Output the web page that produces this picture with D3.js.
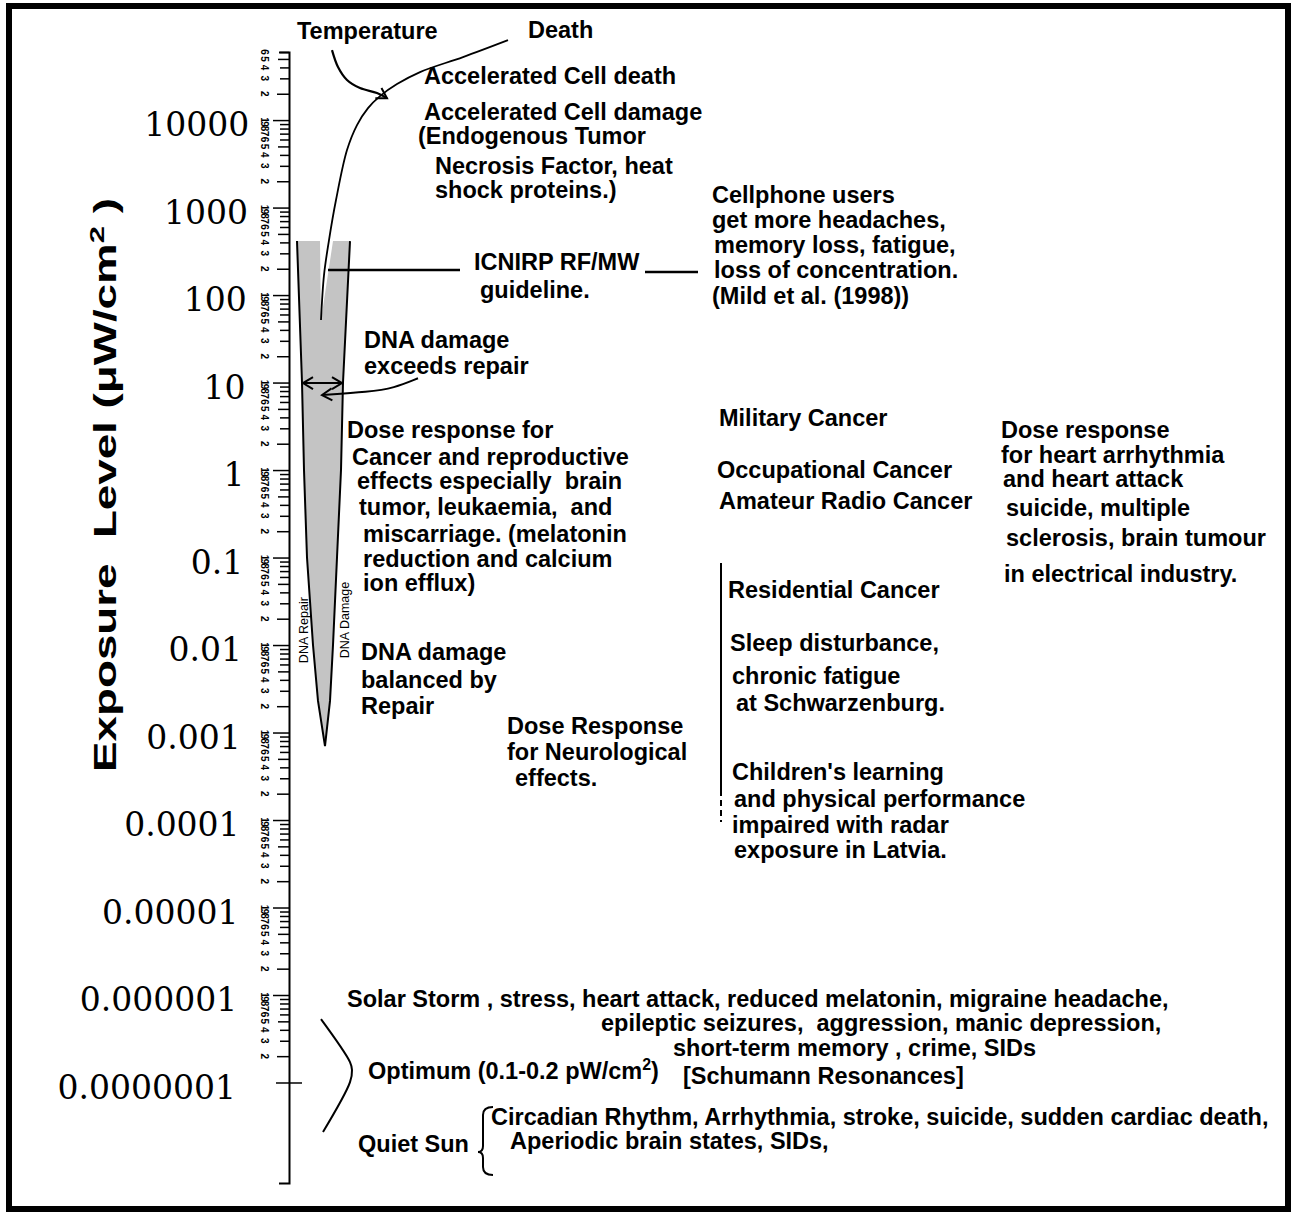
<!DOCTYPE html>
<html>
<head>
<meta charset="utf-8">
<script src="https://cdn.jsdelivr.net/npm/d3@7"></script>
<style>
  body { margin: 0; background: #fff; }
  svg text { font-family: "Liberation Sans", Arial, sans-serif; white-space: pre; }
</style>
</head>
<body>
<svg id="chart" width="1294" height="1214"></svg>
<script>
// exposure level axis (µW/cm2)
const decadeValues = [1e4, 1e3, 100, 10, 1, 0.1, 0.01, 0.001, 1e-4, 1e-5, 1e-6, 1e-7];
const decadeLabels = ["10000", "1000", "100", "10", "1", "0.1", "0.01", "0.001",
                      "0.0001", "0.00001", "0.000001", "0.0000001"];
const minorDigits = [2, 3, 4, 5, 6, 7, 8, 9];

// gray wedge: repair vs damage (x in arbitrary response units)
const wedgeLevels = [414, 10, 1, 0.1, 0.01, 0.0023, 0.0007];
const repairEdge  = [0.8, 1.3, 1.5, 1.8, 2.4, 2.9, 3.6];
const damageEdge  = [6.1, 5.4, 5.2, 4.8, 4.4, 4.1, 3.6];

// thermal curve up to death
const deathLevels = [51.8, 169, 425, 1219, 4540, 8770, 1.37e4, 1.88e4, 2.58e4, 3.54e4, 5.25e4, 8.2e4];
const deathX      = [3.2, 3.5, 4.0, 4.7, 5.8, 6.8, 7.9, 9.1, 10.8, 13.1, 17.4, 21.9];

const temperatureLevels = [6.3e4, 4.04e4, 2.87e4, 2.32e4, 2.04e4, 1.78e4];
const temperatureX      = [4.3, 4.9, 5.8, 7.1, 8.8, 9.8];

// annotation lines: [text, level, column]
const notes = [
  ["Temperature", 1.04e5, 0.8],
  ["Death", 1.07e5, 23.9],
  ["Accelerated Cell death", 3.18e4, 13.5],
  ["Accelerated Cell damage", 1.23e4, 13.5],
  ["(Endogenous Tumor", 6560, 12.9],
  ["Necrosis Factor, heat", 2980, 14.6],
  ["shock proteins.)", 1580, 14.6],
  ["Cellphone users", 1390, 42.3],
  ["get more headaches,", 719, 42.3],
  ["memory loss, fatigue,", 373, 42.5],
  ["loss of concentration.", 193, 42.5],
  ["(Mild et al. (1998))", 97, 42.3],
  ["ICNIRP RF/MW", 238, 18.5],
  ["guideline.", 114, 19.1],
  ["DNA damage", 30.6, 7.5],
  ["exceeds repair", 15.4, 7.5],
  ["Dose response for", 2.87, 5.8],
  ["Cancer and reproductive", 1.41, 6.3],
  ["effects especially  brain", 0.748, 6.8],
  ["tumor, leukaemia,  and", 0.378, 7.0],
  ["miscarriage. (melatonin", 0.186, 7.4],
  ["reduction and calcium", 0.096, 7.4],
  ["ion efflux)", 0.051, 7.4],
  ["DNA damage", 0.0083, 7.2],
  ["balanced by", 0.004, 7.2],
  ["Repair", 0.002, 7.2],
  ["Dose Response", 0.00119, 21.8],
  ["for Neurological", 6e-4, 21.8],
  ["effects.", 3e-4, 22.6],
  ["Military Cancer", 3.93, 43.0],
  ["Occupational Cancer", 1, 42.8],
  ["Amateur Radio Cancer", 0.44, 43.0],
  ["Dose response", 2.87, 71.2],
  ["for heart arrhythmia", 1.48, 71.2],
  ["and heart attack", 0.79, 71.4],
  ["suicide, multiple", 0.368, 71.7],
  ["sclerosis, brain tumour", 0.167, 71.7],
  ["in electrical industry.", 0.065, 71.5],
  ["Residential Cancer", 0.0425, 43.9],
  ["Sleep disturbance,", 0.0105, 44.1],
  ["chronic fatigue", 0.0045, 44.3],
  ["at Schwarzenburg.", 0.00217, 44.7],
  ["Children's learning", 3.54e-4, 44.3],
  ["and physical performance", 1.74e-4, 44.5],
  ["impaired with radar", 8.77e-5, 44.3],
  ["exposure in Latvia.", 4.54e-5, 44.5],
  ["Solar Storm , stress, heart attack, reduced melatonin, migraine headache,", 9e-7, 5.8],
  ["epileptic seizures,  aggression, manic depression,", 4.78e-7, 31.2],
  ["short-term memory , crime, SIDs", 2.48e-7, 38.4],
  ["Optimum (0.1-0.2 pW/cm^2)", 1.35e-7, 7.9],
  ["[Schumann Resonances]", 1.19e-7, 39.4],
  ["Quiet Sun", 1.98e-8, 6.9],
  ["Circadian Rhythm, Arrhythmia, stroke, suicide, sudden cardiac death,", 4.1e-8, 20.2],
  ["Aperiodic brain states, SIDs,", 2.15e-8, 22.1]
];

const svg = d3.select("#chart");
const y = d3.scaleLog().domain([7.1e-9, 6e4]).range([1183, 52]);
const x = d3.scaleLinear().domain([0, 100]).range([289, 1289]);

// frame
svg.append("rect").attr("x", 9).attr("y", 6).attr("width", 1279).attr("height", 1203)
   .attr("fill", "none").attr("stroke", "#000").attr("stroke-width", 6);

const defs = svg.append("defs");
defs.append("marker").attr("id", "arr")
    .attr("viewBox", "-12 -8 14 16").attr("refX", 0).attr("refY", 0)
    .attr("markerWidth", 14).attr("markerHeight", 16)
    .attr("markerUnits", "userSpaceOnUse").attr("orient", "auto-start-reverse")
  .append("path").attr("d", "M-10,-6L0,0L-10,6")
    .attr("fill", "none").attr("stroke", "#000").attr("stroke-width", 2);

// wedge
const wedge = wedgeLevels.map((v, i) => ({v, r: repairEdge[i], d: damageEdge[i]}));
svg.append("path").datum(wedge)
   .attr("fill", "#c4c4c4")
   .attr("d", d3.area().y(d => y(d.v)).x0(d => x(d.r)).x1(d => x(d.d)));
svg.append("path").datum(wedge).attr("fill", "none").attr("stroke", "#000").attr("stroke-width", 2)
   .attr("d", d3.line().y(d => y(d.v)).x(d => x(d.r)));
svg.append("path").datum(wedge).attr("fill", "none").attr("stroke", "#000").attr("stroke-width", 2)
   .attr("d", d3.line().y(d => y(d.v)).x(d => x(d.d)));
// notch left by the thermal curve
svg.append("path").datum([[3.2, 51.8], [3.1, 414], [4.4, 414]])
   .attr("fill", "#fff")
   .attr("d", d3.line().x(d => x(d[0])).y(d => y(d[1])));

// main axis line
const gAxis = svg.append("g").attr("transform", `translate(${x(0)},0)`)
  .call(d3.axisLeft(y).tickValues([]).tickSizeOuter(10));
gAxis.select(".domain").attr("stroke-width", 2);

// minor ticks
const digitOf = v => Math.round(v / Math.pow(10, Math.floor(Math.log10(v) + 1e-9)));
const minorValues = [];
decadeValues.slice().reverse().forEach(dv => {
  minorDigits.forEach(k => { if (k * dv <= y.domain()[1]) minorValues.push(k * dv); });
});
const gMinor = svg.append("g").attr("transform", `translate(${x(0)},0)`)
  .call(d3.axisLeft(y).tickValues(minorValues).tickSize(9).tickFormat(""));
gMinor.select(".domain").remove();
gMinor.selectAll(".tick line").attr("stroke-width", 1.5)
  .attr("x2", d => {
    const k = digitOf(d);
    return k === 2 ? -12 : k === 5 ? -11 : -9;
  });

// decade ticks and labels
const gMajor = svg.append("g").attr("transform", `translate(${x(0)},0)`)
  .call(d3.axisLeft(y).tickValues(decadeValues).tickSize(16)
        .tickFormat((d, i) => decadeLabels[i]));
gMajor.select(".domain").remove();
gMajor.selectAll(".tick line").attr("stroke-width", 1.5)
  .attr("x1", d => d === 1e-7 ? 13 : 0)
  .attr("x2", d => d === 1e-7 ? -13 : -16);
gMajor.selectAll(".tick text")
  .style("font-family", "'DejaVu Serif', serif").style("font-size", "33px")
  .attr("x", d => -(53 - 1.2 * (Math.log10(d) + 7)))
  .attr("dy", "0.48em").attr("fill", "#000");

// tiny rotated digits of the log paper
const tinyVals = minorValues.map(v => ({v, t: String(digitOf(v))}))
  .concat(decadeValues.filter(v => v > 1e-7).map(v => ({v, t: "1"})));
svg.append("g").selectAll("text").data(tinyVals).join("text")
  .attr("transform", d => `translate(${x(0) - 25},${y(d.v)}) rotate(90)`)
  .attr("text-anchor", "middle").attr("dy", "0.35em")
  .attr("font-size", 10).attr("font-weight", "bold")
  .text(d => d.t);

// thermal curve
svg.append("path").datum(deathLevels.map((v, i) => [deathX[i], v]))
  .attr("fill", "none").attr("stroke", "#000").attr("stroke-width", 1.8)
  .attr("d", d3.line().x(d => x(d[0])).y(d => y(d[1])).curve(d3.curveCatmullRom));

svg.append("path").datum(temperatureLevels.map((v, i) => [temperatureX[i], v]))
  .attr("fill", "none").attr("stroke", "#000").attr("stroke-width", 2.2)
  .attr("marker-end", "url(#arr)")
  .attr("d", d3.line().x(d => x(d[0])).y(d => y(d[1])).curve(d3.curveCatmullRom));

// ICNIRP guideline leaders
const leader = (x0, x1, v) => svg.append("line")
  .attr("x1", x(x0)).attr("x2", x(x1)).attr("y1", y(v)).attr("y2", y(v))
  .attr("stroke", "#000").attr("stroke-width", 2.5);
leader(3.9, 17.1, 193);
leader(35.6, 40.9, 183);

// DNA repair / damage arrows
svg.append("line").attr("x1", x(1.4)).attr("x2", x(5.3)).attr("y1", y(9.87)).attr("y2", y(9.87))
  .attr("stroke", "#000").attr("stroke-width", 2)
  .attr("marker-start", "url(#arr)").attr("marker-end", "url(#arr)");
svg.append("path").datum([[12.9, 11.2], [10.5, 8.65], [8, 7.8], [3.3, 7.2]])
  .attr("fill", "none").attr("stroke", "#000").attr("stroke-width", 2)
  .attr("marker-end", "url(#arr)")
  .attr("d", d3.line().x(d => x(d[0])).y(d => y(d[1])).curve(d3.curveBasis));

// residential bracket line
svg.append("line").attr("x1", x(43.2)).attr("x2", x(43.2)).attr("y1", y(0.0865)).attr("y2", y(2.2e-4))
  .attr("stroke", "#000").attr("stroke-width", 2);
svg.append("line").attr("x1", x(43.2)).attr("x2", x(43.2)).attr("y1", y(2.2e-4)).attr("y2", y(9.5e-5))
  .attr("stroke", "#000").attr("stroke-width", 2).attr("stroke-dasharray", "6,4");

// schumann parenthesis
svg.append("path").datum([[3.2, 5.3e-7], [6.1, 1.71e-7], [6.3, 1.39e-7], [6.1, 1.01e-7], [3.4, 2.72e-8]])
  .attr("fill", "none").attr("stroke", "#000").attr("stroke-width", 2)
  .attr("d", d3.line().x(d => x(d[0])).y(d => y(d[1])).curve(d3.curveCatmullRom));

// quiet sun brace
{
  const bx = x(19.4), tip = x(18.9), ex = x(20.4);
  const yt = y(5.25e-8), ym = y(1.61e-8), yb = y(8.77e-9);
  const p = d3.path();
  p.moveTo(ex, yt);
  p.quadraticCurveTo(bx, yt, bx, yt + 8);
  p.lineTo(bx, ym - 6);
  p.quadraticCurveTo(bx, ym, tip, ym);
  p.quadraticCurveTo(bx, ym, bx, ym + 6);
  p.lineTo(bx, yb - 8);
  p.quadraticCurveTo(bx, yb, ex, yb);
  svg.append("path").attr("d", p.toString()).attr("fill", "none")
    .attr("stroke", "#000").attr("stroke-width", 2);
}

// rotated wedge labels
svg.append("text").attr("transform", `translate(${x(1.5)},${y(0.0148)}) rotate(-90)`)
  .attr("text-anchor", "middle").attr("dy", "0.35em").attr("font-size", 12.5).text("DNA Repair");
svg.append("text").attr("transform", `translate(${x(5.6)},${y(0.0193)}) rotate(-90)`)
  .attr("text-anchor", "middle").attr("dy", "0.35em").attr("font-size", 12.5).text("DNA Damage");

// text with ^n superscripts
function richText(sel, str, size) {
  let back = 0;
  str.split(/(\^\d)/).forEach(part => {
    if (part.startsWith("^")) {
      sel.append("tspan").attr("font-size", size * 0.68).attr("dy", -size * 0.4).text(part.slice(1));
      back = size * 0.4;
    } else if (part.length) {
      const t = sel.append("tspan").text(part);
      if (back) t.attr("dy", back);
      back = 0;
    }
  });
}

const noteSize = 23.5;
svg.append("g").selectAll("text").data(notes).join("text")
  .attr("x", d => x(d[2])).attr("y", d => y(d[1]) + noteSize * 0.35)
  .attr("font-size", noteSize).attr("font-weight", "bold")
  .each(function(d) { richText(d3.select(this), d[0], noteSize); });

// y axis title
const title = svg.append("text").attr("font-size", 31).attr("font-weight", "bold")
  .attr("text-anchor", "middle");
richText(title, "Exposure  Level (\u03bcW/cm^2 )", 31);
const len = title.node().getComputedTextLength();
title.attr("transform", `translate(116,485) rotate(-90) scale(${574 / len},1)`);
</script>
</body>
</html>
